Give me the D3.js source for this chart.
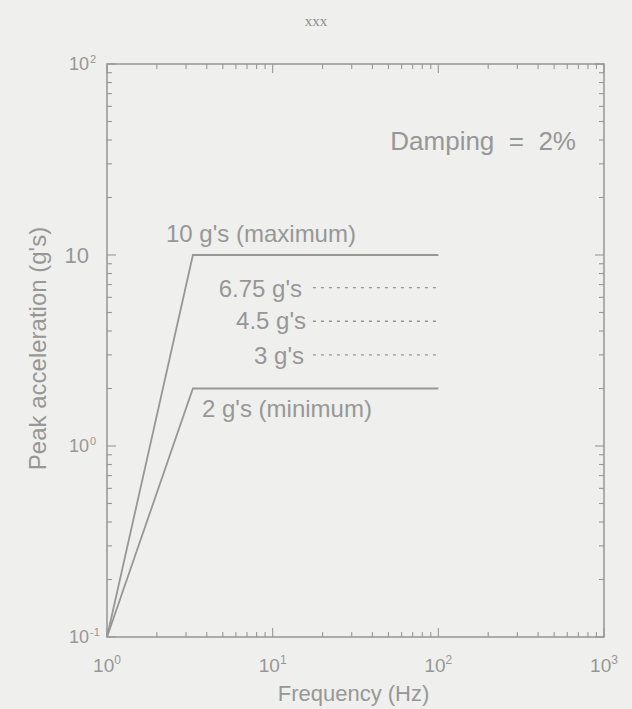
<!DOCTYPE html>
<html>
<head>
<meta charset="utf-8">
<script src="https://cdn.jsdelivr.net/npm/d3@7"></script>
<style>
  html, body { margin: 0; padding: 0; background: #efefed; }
  svg { display: block; }
  text { font-family: "Liberation Sans", Arial, sans-serif; fill: #979797; }
</style>
</head>
<body>
<script>
// ---- data ----
const maxFreq = [1, 3.3, 100];
const maxAcc  = [0.1, 10, 10];
const minFreq = [1, 3.3, 100];
const minAcc  = [0.1, 2, 2];
const dottedLevels = [6.75, 4.5, 3];
const dottedFreq = [17.5, 100];
const levelLabels = ["10 g's (maximum)", "6.75 g's", "4.5 g's", "3 g's", "2 g's (minimum)"];
const xTickValues = [1, 10, 100, 1000];
const xTickExp = ["0", "1", "2", "3"];
const yTickValues = [0.1, 1, 10, 100];
const yTickBase = ["10", "10", "10", "10"];
const yTickExp = ["-1", "0", "", "2"];

const W = 632, H = 709;
const m = {left: 107, right: 28, top: 64, bottom: 72};
const iw = W - m.left - m.right, ih = H - m.top - m.bottom;
const col = "#979797";

const svg = d3.select("body").append("svg").attr("width", W).attr("height", H);
svg.append("rect").attr("width", W).attr("height", H).attr("fill", "#efefed");

const x = d3.scaleLog().domain([1, 1000]).range([m.left, m.left + iw]);
const y = d3.scaleLog().domain([0.1, 100]).range([m.top + ih, m.top]);

// title
svg.append("text").attr("x", W / 2).attr("y", 26).attr("text-anchor", "middle")
  .style("font-family", "'Liberation Serif', 'Times New Roman', serif")
  .style("font-size", "15px").style("fill", "#8e8e8e").text("xxx");

// frame
svg.append("rect").attr("x", m.left).attr("y", m.top).attr("width", iw).attr("height", ih)
  .attr("fill", "none").attr("stroke", col).attr("stroke-width", 1.5);

// ticks (inward on all sides)
function minorTicks(domain) {
  const out = [];
  for (let e = Math.log10(domain[0]); e < Math.log10(domain[1]) - 1e-9; e++) {
    const b = Math.pow(10, e);
    for (let k = 1; k < 10; k++) out.push({v: b * k, major: k === 1});
  }
  out.push({v: domain[1], major: true});
  return out;
}
const xt = minorTicks([1, 1000]);
const yt = minorTicks([0.1, 100]);
const tickG = svg.append("g").attr("stroke", col).attr("stroke-width", 1.1);
xt.forEach(t => {
  const L = t.major ? 9 : 5;
  tickG.append("line").attr("x1", x(t.v)).attr("x2", x(t.v)).attr("y1", m.top + ih).attr("y2", m.top + ih - L);
  tickG.append("line").attr("x1", x(t.v)).attr("x2", x(t.v)).attr("y1", m.top).attr("y2", m.top + L);
});
yt.forEach(t => {
  const L = t.major ? 9 : 5;
  tickG.append("line").attr("y1", y(t.v)).attr("y2", y(t.v)).attr("x1", m.left).attr("x2", m.left + L);
  tickG.append("line").attr("y1", y(t.v)).attr("y2", y(t.v)).attr("x1", m.left + iw).attr("x2", m.left + iw - L);
});

// x tick labels
xTickValues.forEach((v, i) => {
  const t = svg.append("text").attr("x", x(v)).attr("y", 672).attr("text-anchor", "middle")
    .style("font-size", "19px");
  t.append("tspan").text("10");
  t.append("tspan").attr("dy", -8).style("font-size", "12px").text(xTickExp[i]);
});
// y tick labels
yTickValues.forEach((v, i) => {
  if (yTickExp[i]) {
    svg.append("text").attr("x", 89).attr("y", y(v) + 6).attr("text-anchor", "end")
      .style("font-size", "18px").text(yTickBase[i]);
    svg.append("text").attr("x", 90).attr("y", y(v) - 1).attr("text-anchor", "start")
      .style("font-size", "11px").text(yTickExp[i]);
  } else {
    svg.append("text").attr("x", 89).attr("y", y(v) + 8).attr("text-anchor", "end")
      .style("font-size", "22px").text(yTickBase[i]);
  }
});

// axis titles
svg.append("text").attr("x", m.left + iw / 2 - 2).attr("y", 701).attr("text-anchor", "middle")
  .style("font-size", "22px").text("Frequency (Hz)");
svg.append("text").attr("transform", `translate(46,${m.top + ih / 2 - 2}) rotate(-90)`)
  .attr("text-anchor", "middle").style("font-size", "24px").text("Peak acceleration (g's)");

// lines
const line = d3.line().x(d => x(d[0])).y(d => y(d[1]));
svg.append("path").datum(d3.zip(maxFreq, maxAcc)).attr("d", line)
  .attr("fill", "none").attr("stroke", col).attr("stroke-width", 1.8);
svg.append("path").datum(d3.zip(minFreq, minAcc)).attr("d", line)
  .attr("fill", "none").attr("stroke", col).attr("stroke-width", 1.8);
dottedLevels.forEach(lv => {
  svg.append("path").datum(dottedFreq.map(f => [f, lv])).attr("d", line)
    .attr("fill", "none").attr("stroke", col).attr("stroke-width", 1.3)
    .attr("stroke-dasharray", "3,5");
});

// labels
const fs = "24px";
svg.append("text").attr("x", 166).attr("y", y(10) - 13).attr("text-anchor", "start")
  .style("font-size", fs).text(levelLabels[0]);
svg.append("text").attr("x", 302).attr("y", y(6.75) + 9).attr("text-anchor", "end")
  .style("font-size", fs).text(levelLabels[1]);
svg.append("text").attr("x", 306).attr("y", y(4.5) + 8).attr("text-anchor", "end")
  .style("font-size", fs).text(levelLabels[2]);
svg.append("text").attr("x", 304).attr("y", y(3) + 9).attr("text-anchor", "end")
  .style("font-size", fs).text(levelLabels[3]);
svg.append("text").attr("x", 202).attr("y", y(2) + 28).attr("text-anchor", "start")
  .style("font-size", fs).text(levelLabels[4]);

svg.append("text").attr("x", 576).attr("y", 150).attr("text-anchor", "end")
  .attr("xml:space", "preserve").style("white-space", "pre")
  .style("font-size", "26px").text("Damping  =  2%");
</script>
</body>
</html>
